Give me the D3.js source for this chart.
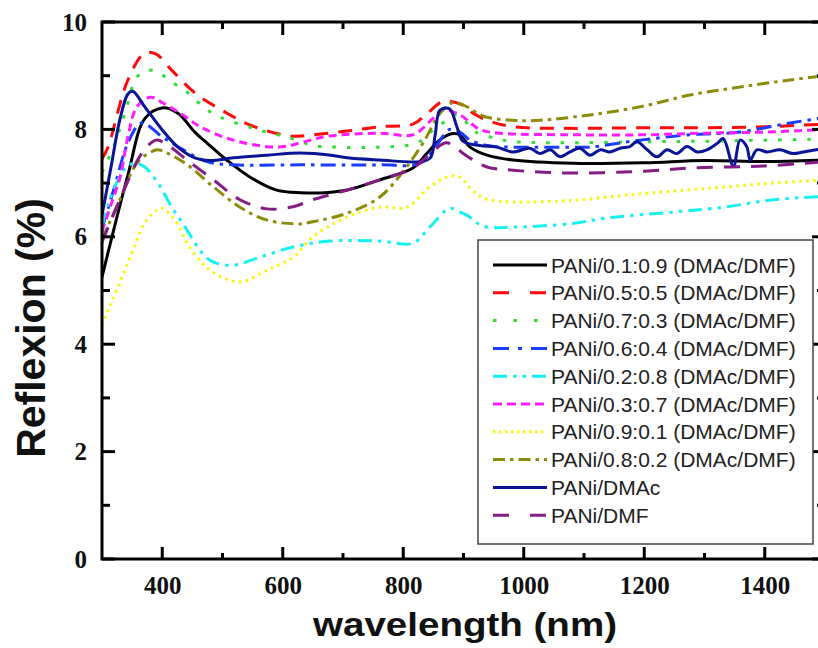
<!DOCTYPE html>
<html>
<head>
<meta charset="utf-8">
<script src="https://cdn.jsdelivr.net/npm/d3@7"></script>
<style>
  html, body { margin: 0; padding: 0; background: #fff; }
  svg { display: block; }
</style>
</head>
<body>
<svg id="chart" width="818" height="648"></svg>
<script>
// Reflectance spectra of PANi films cast from DMAc/DMF solvent mixtures
// Each series: [wavelength (nm), reflexion (%)]
const s01_09 = [[300,5.25],[343,7.15],[371,8.2],[400,8.4],[426,8.3],[454,7.95],[474,7.75],[507,7.43],[546,7.11],[590,6.87],[630,6.82],[670,6.82],[707,6.87],[761,7.06],[816,7.28],[839,7.55],[860,7.8],[880,7.92],[894,7.9],[911,7.67],[939,7.52],[982,7.43],[1082,7.37],[1200,7.38],[1300,7.42],[1400,7.4],[1500,7.43]];
const s05_05 = [[300,7.45],[310,7.67],[343,8.92],[371,9.42],[390,9.4],[416,9.1],[454,8.68],[500,8.35],[546,8.08],[612,7.88],[650,7.9],[707,7.97],[761,8.05],[816,8.1],[840,8.3],[866,8.52],[899,8.45],[916,8.3],[944,8.15],[982,8.05],[1065,8.02],[1200,8.03],[1300,8.03],[1400,8.05],[1500,8.1]];
const s07_03 = [[300,7.2],[320,7.7],[338,8.3],[360,9.0],[385,9.1],[416,8.88],[443,8.68],[470,8.4],[496,8.23],[557,8.0],[612,7.84],[650,7.7],[690,7.67],[761,7.67],[823,7.75],[850,7.99],[872,8.17],[885,8.27],[897,8.23],[916,7.98],[944,7.86],[977,7.78],[1055,7.75],[1200,7.77],[1300,7.78],[1400,7.8],[1500,7.82]];
const s06_04 = [[300,6.15],[320,6.9],[345,7.8],[366,8.12],[400,7.86],[435,7.62],[474,7.4],[518,7.34],[629,7.34],[761,7.34],[828,7.37],[855,7.7],[877,8.0],[894,7.95],[911,7.8],[940,7.7],[982,7.67],[1082,7.67],[1110,7.67],[1193,7.8],[1276,7.9],[1359,7.95],[1442,8.12],[1500,8.22]];
const s02_08 = [[300,6.2],[320,6.9],[340,7.3],[355,7.37],[371,7.3],[393,7.0],[416,6.55],[438,6.18],[466,5.7],[485,5.53],[518,5.47],[562,5.62],[617,5.81],[678,5.92],[761,5.92],[816,5.88],[844,6.18],[877,6.53],[894,6.46],[906,6.4],[932,6.2],[982,6.18],[1082,6.25],[1138,6.35],[1248,6.46],[1331,6.55],[1414,6.69],[1500,6.75]];
const s03_07 = [[300,6.1],[315,6.6],[330,7.11],[343,7.86],[358,8.42],[380,8.6],[400,8.5],[430,8.3],[463,8.05],[518,7.8],[590,7.67],[630,7.75],[667,7.86],[761,7.93],[816,7.9],[849,8.2],[866,8.36],[894,8.27],[927,8.0],[961,7.93],[1082,7.9],[1200,7.9],[1300,7.93],[1400,7.95],[1500,8.0]];
const s09_01 = [[300,4.36],[343,5.51],[371,6.26],[391,6.5],[400,6.53],[421,6.31],[443,5.85],[466,5.51],[485,5.33],[529,5.16],[574,5.38],[617,5.62],[650,6.0],[707,6.37],[761,6.55],[806,6.55],[844,6.93],[877,7.13],[894,7.11],[916,6.85],[939,6.7],[982,6.65],[1082,6.68],[1193,6.8],[1304,6.9],[1414,7.0],[1500,7.06]];
const s08_02 = [[300,5.95],[330,6.7],[360,7.4],[391,7.62],[400,7.6],[438,7.37],[485,6.93],[529,6.55],[574,6.31],[629,6.24],[650,6.28],[707,6.44],[761,6.74],[800,7.22],[833,7.75],[861,8.3],[883,8.5],[906,8.42],[932,8.25],[982,8.17],[1027,8.17],[1110,8.27],[1193,8.42],[1276,8.64],[1359,8.79],[1442,8.92],[1500,9.0]];
const sDMAc = [[300,6.4],[315,7.3],[330,8.2],[343,8.66],[351,8.71],[371,8.42],[400,7.99],[426,7.67],[454,7.47],[480,7.42],[518,7.47],[574,7.52],[629,7.56],[680,7.52],[707,7.47],[761,7.43],[828,7.4],[845,7.47],[853,7.9],[861,8.36],[877,8.38],[889,8.05],[899,7.78],[927,7.7],[955,7.67],[982,7.58],[1010,7.65],[1027,7.55],[1044,7.62],[1060,7.49],[1077,7.58],[1093,7.65],[1110,7.52],[1127,7.62],[1143,7.58],[1160,7.65],[1176,7.68],[1188,7.77],[1205,7.62],[1221,7.49],[1238,7.62],[1254,7.55],[1271,7.68],[1288,7.58],[1304,7.62],[1321,7.74],[1331,7.83],[1348,7.31],[1359,7.8],[1370,7.68],[1376,7.43],[1387,7.62],[1404,7.58],[1425,7.62],[1447,7.55],[1464,7.58],[1500,7.65]];
const sDMF = [[300,5.9],[330,6.7],[366,7.55],[390,7.8],[410,7.7],[441,7.43],[485,7.06],[529,6.69],[574,6.52],[617,6.56],[650,6.69],[707,6.87],[761,7.06],[816,7.28],[850,7.6],[872,7.75],[906,7.5],[939,7.3],[982,7.24],[1065,7.19],[1200,7.22],[1276,7.28],[1400,7.32],[1500,7.4]];

const seriesNames = [
  "PANi/0.1:0.9 (DMAc/DMF)", "PANi/0.5:0.5 (DMAc/DMF)", "PANi/0.7:0.3 (DMAc/DMF)",
  "PANi/0.6:0.4 (DMAc/DMF)", "PANi/0.2:0.8 (DMAc/DMF)", "PANi/0.3:0.7 (DMAc/DMF)",
  "PANi/0.9:0.1 (DMAc/DMF)", "PANi/0.8:0.2 (DMAc/DMF)", "PANi/DMAc", "PANi/DMF"
];
const seriesData = [s01_09, s05_05, s07_03, s06_04, s02_08, s03_07, s09_01, s08_02, sDMAc, sDMF];

const xTicks = [400, 600, 800, 1000, 1200, 1400];
const xMinorTicks = [500, 700, 900, 1100, 1300];
const yTicks = [0, 2, 4, 6, 8, 10];
const yMinorTicks = [1, 3, 5, 7, 9];

// line styles per series: colour, dash in the plot, dash in the legend sample
const styles = [
  { color: "#000000", dash: null, legendDash: null },
  { color: "#ff0a0a", dash: "14,10", legendDash: "16,21" },
  { color: "#2ee02e", dash: "3.5,11", legendDash: "3.5,17" },
  { color: "#1a3cff", dash: "15,6,3.5,6", legendDash: "16,9,4,9" },
  { color: "#18f0f0", dash: "14,6,3.5,6,3.5,6", legendDash: "14,6,3.5,6,3.5,6" },
  { color: "#ff1cff", dash: "8,5", legendDash: "9,5" },
  { color: "#f7f700", dash: "2.5,4.5", legendDash: "2.5,3.5" },
  { color: "#8c8c0a", dash: "12,5,3.5,5", legendDash: "12,5,3.5,5" },
  { color: "#0a1496", dash: null, legendDash: null },
  { color: "#861b86", dash: "16,11", legendDash: "16,21" }
];

const svg = d3.select("#chart");
const x = d3.scaleLinear().domain([300, 1500]).range([102, 825]);
const y = d3.scaleLinear().domain([0, 10]).range([559, 22]);

svg.append("defs").append("clipPath").attr("id", "plotClip")
  .append("rect").attr("x", x(300)).attr("y", y(10))
  .attr("width", x(1500) - x(300)).attr("height", y(0) - y(10));

// curves
const line = d3.line()
  .x(d => x(d[0])).y(d => y(d[1]))
  .curve(d3.curveCatmullRom.alpha(0.5));

const curves = svg.append("g").attr("clip-path", "url(#plotClip)");
seriesData.forEach((data, i) => {
  curves.append("path")
    .datum(data)
    .attr("d", line)
    .attr("fill", "none")
    .attr("stroke", styles[i].color)
    .attr("stroke-width", 3)
    .attr("stroke-linejoin", "round")
    .attr("stroke-dasharray", styles[i].dash);
});

// tick labels from d3 axes (tick marks are drawn separately below)
const tickFont = "'Liberation Serif', 'Times New Roman', serif";
const axisBottomG = svg.append("g").attr("transform", `translate(0,${y(0)})`)
  .call(d3.axisBottom(x).tickValues(xTicks).tickSize(0).tickPadding(5).tickFormat(d3.format("d")));
axisBottomG.select(".domain").remove();
axisBottomG.selectAll("text").attr("font-family", tickFont).attr("font-weight", "bold")
  .attr("font-size", 25).attr("fill", "#111").attr("y", 17).attr("dy", "0.72em");

const axisLeftG = svg.append("g").attr("transform", `translate(${x(300)},0)`)
  .call(d3.axisLeft(y).tickValues(yTicks).tickSize(0).tickPadding(15).tickFormat(d3.format("d")));
axisLeftG.select(".domain").remove();
axisLeftG.selectAll("text").attr("font-family", tickFont).attr("font-weight", "bold")
  .attr("font-size", 25).attr("fill", "#111");

// inward tick marks on all four sides
const ticks = svg.append("g").attr("stroke", "#000").attr("stroke-width", 3);
const xTickSpecs = xTicks.map(v => ({ v, len: 12 })).concat(xMinorTicks.map(v => ({ v, len: 6 })));
const yTickSpecs = yTicks.map(v => ({ v, len: 13 })).concat(yMinorTicks.map(v => ({ v, len: 8 })));
ticks.selectAll(".tb").data(xTickSpecs).join("line").attr("class", "tb")
  .attr("x1", d => x(d.v)).attr("x2", d => x(d.v))
  .attr("y1", y(0)).attr("y2", d => y(0) - d.len);
ticks.selectAll(".tt").data(xTickSpecs).join("line").attr("class", "tt")
  .attr("x1", d => x(d.v)).attr("x2", d => x(d.v))
  .attr("y1", y(10)).attr("y2", d => y(10) + d.len + 1);
ticks.selectAll(".tl").data(yTickSpecs).join("line").attr("class", "tl")
  .attr("y1", d => y(d.v)).attr("y2", d => y(d.v))
  .attr("x1", x(300)).attr("x2", d => x(300) + d.len);
ticks.selectAll(".tr").data(yTickSpecs).join("line").attr("class", "tr")
  .attr("y1", d => y(d.v)).attr("y2", d => y(d.v))
  .attr("x1", x(1500)).attr("x2", d => x(1500) - d.len);

// frame
svg.append("rect")
  .attr("x", x(300)).attr("y", y(10))
  .attr("width", x(1500) - x(300)).attr("height", y(0) - y(10))
  .attr("fill", "none").attr("stroke", "#000").attr("stroke-width", 3);

// axis titles
const titleFont = "'Liberation Sans', Arial, sans-serif";
svg.append("text")
  .attr("x", 465).attr("y", 636)
  .attr("text-anchor", "middle")
  .attr("font-family", titleFont).attr("font-weight", "bold").attr("font-size", 33)
  .attr("textLength", 304).attr("lengthAdjust", "spacingAndGlyphs")
  .attr("fill", "#111")
  .text("wavelength (nm)");
svg.append("text")
  .attr("transform", "translate(45,328) rotate(-90)")
  .attr("text-anchor", "middle")
  .attr("font-family", titleFont).attr("font-weight", "bold").attr("font-size", 41)
  .attr("fill", "#111")
  .text("Reflexion (%)");

// legend
const legend = svg.append("g");
legend.append("rect")
  .attr("x", 478).attr("y", 240).attr("width", 335).attr("height", 304)
  .attr("fill", "#fff").attr("stroke", "#444").attr("stroke-width", 1.5);
seriesNames.forEach((name, i) => {
  const cy = 265 + i * 27.8;
  legend.append("line")
    .attr("x1", 493).attr("x2", 547).attr("y1", cy).attr("y2", cy)
    .attr("stroke", styles[i].color).attr("stroke-width", 3)
    .attr("stroke-dasharray", styles[i].legendDash);
  legend.append("text")
    .attr("x", 551).attr("y", cy).attr("dy", "0.36em")
    .attr("font-family", titleFont).attr("font-size", 21).attr("fill", "#222")
    .text(name);
});
</script>
</body>
</html>
